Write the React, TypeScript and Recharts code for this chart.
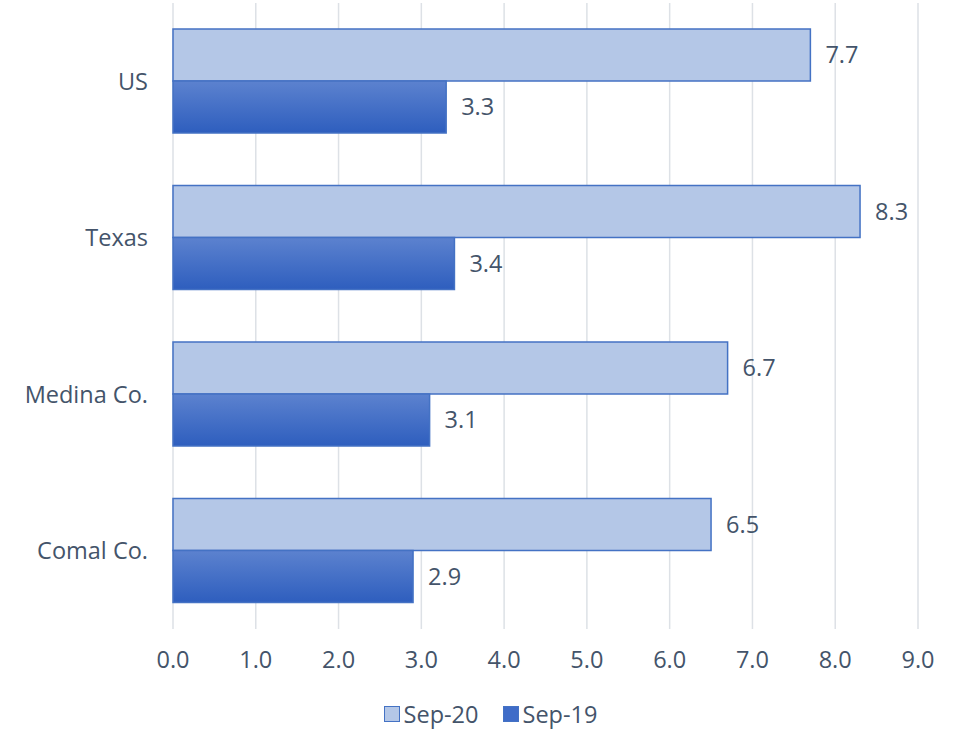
import React from 'react';
import { BarChart, Bar, XAxis, YAxis, CartesianGrid, Legend, LabelList } from 'recharts';

const categories = ['US', 'Texas', 'Medina Co.', 'Comal Co.'];
const sep20 = [7.7, 8.3, 6.7, 6.5];
const sep19 = [3.3, 3.4, 3.1, 2.9];
const xTicks = [0, 1, 2, 3, 4, 5, 6, 7, 8, 9];

const data = categories.map((c, i) => ({ name: c, sep20: sep20[i], sep19: sep19[i] }));

const FONT = '"Open Sans", Lato, sans-serif';
const FS = 23.5;
const TEXT = '#44546A';

const LegendContent = () => (
  <div style={{ display: 'flex', justifyContent: 'center', alignItems: 'center', fontFamily: FONT, fontSize: FS, color: TEXT, paddingTop: 19, paddingLeft: 50 }}>
    <span style={{ display: 'flex', alignItems: 'center', marginRight: 24 }}>
      <span style={{ width: 16, height: 16, background: '#B4C7E7', border: '1.5px solid #4472C4', marginRight: 4, boxSizing: 'border-box' }} />
      Sep-20
    </span>
    <span style={{ display: 'flex', alignItems: 'center' }}>
      <span style={{ width: 16, height: 16, background: '#3F6CC8', border: '1.5px solid #4472C4', marginRight: 4, boxSizing: 'border-box' }} />
      Sep-19
    </span>
  </div>
);

export default function App() {
  return (
    <div style={{ position: 'absolute', left: 0, top: 0, background: '#fff' }}>
      <BarChart
        width={953}
        height={731}
        data={data}
        layout="vertical"
        margin={{ top: 3, right: 35, bottom: 10, left: 13 }}
        barGap={0}
        barSize={52}
      >
        <defs>
          <linearGradient id="g19" x1="0" y1="0" x2="0" y2="1">
            <stop offset="0%" stopColor="#5C82CF" />
            <stop offset="100%" stopColor="#2E5EBE" />
          </linearGradient>
        </defs>
        <CartesianGrid horizontal={false} stroke="#DDE1E6" strokeWidth={1.5} />
        <XAxis
          type="number"
          domain={[0, 9]}
          ticks={xTicks}
          tickFormatter={(v: number) => v.toFixed(1)}
          axisLine={false}
          tickLine={false}
          tick={{ fill: TEXT, fontSize: FS, fontFamily: FONT }}
          tickMargin={16}
          height={50}
          interval={0}
        />
        <YAxis
          type="category"
          dataKey="name"
          axisLine={false}
          tickLine={false}
          tick={{ fill: TEXT, fontSize: FS, fontFamily: FONT }}
          tickMargin={19}
          width={160}
        />
        <Legend verticalAlign="bottom" height={42} content={<LegendContent />} />
        <Bar dataKey="sep20" name="Sep-20" fill="#B4C7E7" stroke="#4472C4" strokeWidth={1.5} isAnimationActive={false}>
          <LabelList dataKey="sep20" position="right" offset={15} formatter={(v: number) => v.toFixed(1)} style={{ fill: TEXT, fontSize: FS, fontFamily: FONT }} />
        </Bar>
        <Bar dataKey="sep19" name="Sep-19" fill="url(#g19)" stroke="#4472C4" strokeWidth={1.5} isAnimationActive={false}>
          <LabelList dataKey="sep19" position="right" offset={15} formatter={(v: number) => v.toFixed(1)} style={{ fill: TEXT, fontSize: FS, fontFamily: FONT }} />
        </Bar>
      </BarChart>
    </div>
  );
}
